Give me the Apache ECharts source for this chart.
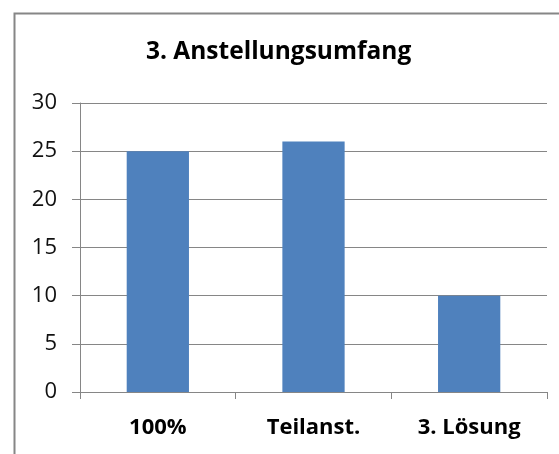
<!DOCTYPE html>
<html><head><meta charset="utf-8">
<script src="https://cdn.jsdelivr.net/npm/echarts@6/dist/echarts.min.js"></script>
<style>html,body{margin:0;padding:0;background:#fff}#c{width:559px;height:454px}</style>
</head><body><div id="c"></div>
<script>
const titleText = '3. Anstellungsumfang';
const categories = ['100%', 'Teilanst.', '3. Lösung'];
const values = [25, 26, 10];
const yTicks = { min: 0, max: 30, interval: 5 };

const axisColor = '#868686';
const chart = echarts.init(document.getElementById('c'), null, { renderer: 'canvas' });
chart.setOption({
  animation: false,
  backgroundColor: '#fff',
  title: {
    text: titleText, left: 141, top: 35,
    textStyle: { fontFamily: 'Open Sans', fontWeight: 'bold', fontSize: 24.5, color: '#000' }
  },
  graphic: [{
    type: 'rect', left: 12, top: 11, silent: true,
    shape: { width: 600, height: 500 },
    style: { fill: 'none', stroke: axisColor, lineWidth: 2 }
  }],
  grid: { left: 80, right: 12, top: 103, bottom: 62, containLabel: false },
  xAxis: {
    type: 'category', data: categories, boundaryGap: true,
    axisLine: { show: true, lineStyle: { color: axisColor, width: 1 } },
    axisTick: { show: true, alignWithLabel: false, length: 7, lineStyle: { color: axisColor } },
    axisLabel: { margin: 25, fontFamily: 'Open Sans', fontWeight: 'bold', fontSize: 22, color: '#000' },
    splitLine: { show: false }
  },
  yAxis: {
    type: 'value', min: yTicks.min, max: yTicks.max, interval: yTicks.interval,
    axisLine: { show: true, lineStyle: { color: axisColor, width: 1 } },
    axisTick: { show: true, inside: false, length: 8, lineStyle: { color: axisColor } },
    axisLabel: { margin: 23, fontFamily: 'Open Sans', fontSize: 22, color: '#111' },
    splitLine: { show: true, lineStyle: { color: axisColor, width: 1 } }
  },
  series: [{
    type: 'bar', data: values, barWidth: '40%',
    itemStyle: { color: '#4F81BD' }
  }]
});
</script></body></html>
